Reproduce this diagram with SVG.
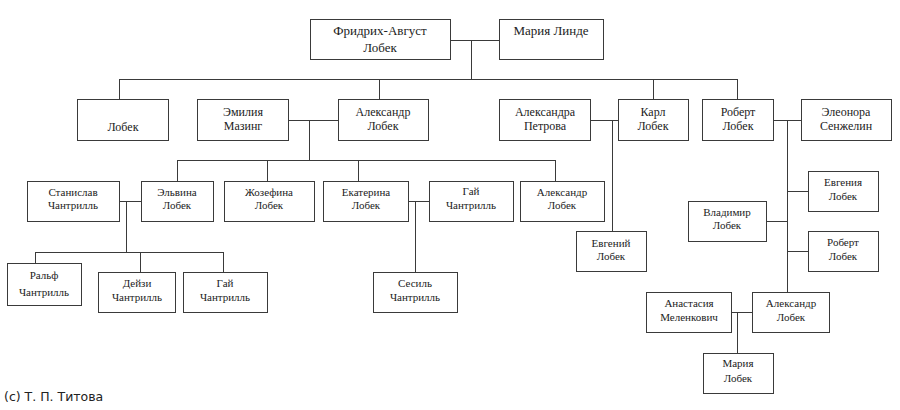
<svg xmlns="http://www.w3.org/2000/svg" width="900" height="410" viewBox="0 0 900 410">
<style>
.b{fill:#fff;stroke:#3a3a3a;stroke-width:1}
.t{font-family:"Liberation Serif","DejaVu Serif",serif;fill:#222;text-anchor:middle}
.t13{font-size:13px}.t12{font-size:12px}.t11{font-size:11px}
#connectors path{fill:none;stroke:#3a3a3a;stroke-width:1}
.c{font-family:"DejaVu Sans",sans-serif;font-size:12.5px;fill:#222}
</style>
<rect width="900" height="410" fill="#fff"/>
<g id="connectors">
<path d="M450,40.5H499M471.5,40V79.5M119,79.5H738M119.5,79V99.5M379.5,79V99.5M653.5,79V99.5M737.5,79V99.5"/>
<path d="M288,120.5H338M309.5,120V160.5M177,160.5H556M177.5,160V181.5M267.5,160V181.5M358.5,160V181.5M555.5,160V181.5"/>
<path d="M119,201.5H141M126.5,201V252.5M35,252.5H224M35.5,252V263.5M140.5,252V272.5M223.5,252V272.5"/>
<path d="M408,201.5H429M415.5,201V272.5"/>
<path d="M590,120.5H618M612.5,120V231.5"/>
<path d="M773,120.5H801M787.5,120V292.5M787,191.5H808M766,221.5H787M787,251.5H808"/>
<path d="M731,312.5H752M737.5,312V353.5"/>
</g>
<g id="n-friedrich"><rect class="b" x="310.5" y="19.5" width="140" height="40"/><text class="t t13" x="380" y="35">Фридрих-Август</text><text class="t t13" x="380" y="52">Лобек</text></g>
<g id="n-maria-linde"><rect class="b" x="499.5" y="19.5" width="104" height="40"/><text class="t t13" x="551" y="35">Мария Линде</text></g>
<g id="n-lobek"><rect class="b" x="77.5" y="99.5" width="91" height="41"/><text class="t t12" x="123" y="131">Лобек</text></g>
<g id="n-emilia"><rect class="b" x="197.5" y="99.5" width="91" height="41"/><text class="t t12" x="243" y="116">Эмилия</text><text class="t t12" x="243" y="130">Мазинг</text></g>
<g id="n-alexander"><rect class="b" x="338.5" y="99.5" width="90" height="41"/><text class="t t12" x="383" y="116">Александр</text><text class="t t12" x="383" y="130">Лобек</text></g>
<g id="n-alexandra"><rect class="b" x="499.5" y="99.5" width="91" height="41"/><text class="t t12" x="545" y="116">Александра</text><text class="t t12" x="545" y="130">Петрова</text></g>
<g id="n-karl"><rect class="b" x="618.5" y="99.5" width="70" height="41"/><text class="t t12" x="653" y="116">Карл</text><text class="t t12" x="653" y="130">Лобек</text></g>
<g id="n-robert"><rect class="b" x="702.5" y="99.5" width="71" height="41"/><text class="t t12" x="738" y="116">Роберт</text><text class="t t12" x="738" y="130">Лобек</text></g>
<g id="n-eleonora"><rect class="b" x="801.5" y="99.5" width="90" height="41"/><text class="t t12" x="846" y="116">Элеонора</text><text class="t t12" x="846" y="130">Сенжелин</text></g>
<g id="n-stanislav"><rect class="b" x="27.5" y="181.5" width="92" height="40"/><text class="t t11" x="73" y="196">Станислав</text><text class="t t11" x="73" y="209">Чантрилль</text></g>
<g id="n-elvina"><rect class="b" x="141.5" y="181.5" width="72" height="40"/><text class="t t11" x="177" y="196">Эльвина</text><text class="t t11" x="177" y="209">Лобек</text></g>
<g id="n-josefina"><rect class="b" x="224.5" y="181.5" width="90" height="40"/><text class="t t11" x="269" y="196">Жозефина</text><text class="t t11" x="269" y="209">Лобек</text></g>
<g id="n-ekaterina"><rect class="b" x="323.5" y="181.5" width="85" height="40"/><text class="t t11" x="366" y="196">Екатерина</text><text class="t t11" x="366" y="209">Лобек</text></g>
<g id="n-guy1"><rect class="b" x="429.5" y="181.5" width="84" height="40"/><text class="t t11" x="471" y="195">Гай</text><text class="t t11" x="471" y="209">Чантрилль</text></g>
<g id="n-alexander2"><rect class="b" x="520.5" y="181.5" width="84" height="40"/><text class="t t11" x="562" y="196">Александр</text><text class="t t11" x="562" y="209">Лобек</text></g>
<g id="n-evgeny"><rect class="b" x="576.5" y="231.5" width="70" height="40"/><text class="t t11" x="611" y="247">Евгений</text><text class="t t11" x="611" y="260">Лобек</text></g>
<g id="n-ralph"><rect class="b" x="7.5" y="263.5" width="74" height="42"/><text class="t t11" x="44" y="279">Ральф</text><text class="t t11" x="44" y="296">Чантрилль</text></g>
<g id="n-daisy"><rect class="b" x="98.5" y="272.5" width="77" height="40"/><text class="t t11" x="137" y="287">Дейзи</text><text class="t t11" x="137" y="301">Чантрилль</text></g>
<g id="n-guy2"><rect class="b" x="183.5" y="272.5" width="84" height="40"/><text class="t t11" x="225" y="287">Гай</text><text class="t t11" x="225" y="301">Чантрилль</text></g>
<g id="n-cecil"><rect class="b" x="373.5" y="272.5" width="84" height="40"/><text class="t t11" x="415" y="287">Сесиль</text><text class="t t11" x="415" y="301">Чантрилль</text></g>
<g id="n-evgenia"><rect class="b" x="808.5" y="171.5" width="70" height="40"/><text class="t t11" x="843" y="186">Евгения</text><text class="t t11" x="843" y="200">Лобек</text></g>
<g id="n-vladimir"><rect class="b" x="688.5" y="201.5" width="78" height="40"/><text class="t t11" x="727" y="216">Владимир</text><text class="t t11" x="727" y="229">Лобек</text></g>
<g id="n-robert2"><rect class="b" x="808.5" y="231.5" width="70" height="40"/><text class="t t11" x="843" y="246">Роберт</text><text class="t t11" x="843" y="260">Лобек</text></g>
<g id="n-anastasia"><rect class="b" x="646.5" y="292.5" width="85" height="40"/><text class="t t11" x="689" y="307">Анастасия</text><text class="t t11" x="689" y="321">Меленкович</text></g>
<g id="n-alexander3"><rect class="b" x="752.5" y="292.5" width="77" height="40"/><text class="t t11" x="791" y="307">Александр</text><text class="t t11" x="791" y="321">Лобек</text></g>
<g id="n-maria"><rect class="b" x="703.5" y="353.5" width="70" height="40"/><text class="t t11" x="738" y="367">Мария</text><text class="t t11" x="738" y="382">Лобек</text></g>
<text class="c" x="4" y="401">(c) Т. П. Титова</text>
</svg>
